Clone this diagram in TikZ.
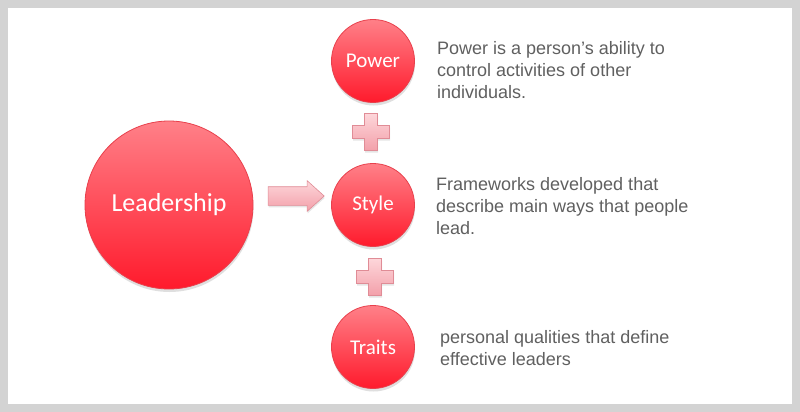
\documentclass[tikz,border=0pt]{standalone}
\usepackage{fontspec}
\setmainfont{Liberation Sans}
\newfontfamily\calib{Carlito}
\usetikzlibrary{shapes.arrows,shadows}
\definecolor{frame}{HTML}{D3D3D3}
\definecolor{redtop}{HTML}{FF8088}
\definecolor{redbot}{HTML}{FF1A2C}
\definecolor{rededge}{HTML}{E8404C}
\definecolor{pinktop}{HTML}{FDD6DA}
\definecolor{pinkbot}{HTML}{F3A0AA}
\definecolor{pinkedge}{HTML}{E08C96}
\definecolor{txt}{HTML}{606060}
\tikzset{
  ball/.style={circle, inner sep=0pt, top color=redtop, bottom color=redbot,
    draw=rededge, line width=0.8pt, text=white,
    drop shadow={opacity=0.25, shadow xshift=0.5pt, shadow yshift=-3pt}},
  smallball/.style={ball, minimum size=83pt, font=\calib\fontsize{21}{24}\selectfont},
  bigball/.style={ball, minimum size=168pt, font=\calib\fontsize{26}{30}\selectfont},
  desc/.style={anchor=west, align=left, inner sep=0pt, text=txt,
    font=\fontsize{18}{22}\selectfont},
  pinkfill/.style={top color=pinktop, bottom color=pinkbot, draw=pinkedge, line width=0.6pt,
    drop shadow={opacity=0.2, shadow xshift=0.5pt, shadow yshift=-2pt}},
  blockarrow/.style={single arrow, pinkfill, inner xsep=0pt, inner ysep=9pt,
    minimum height=56pt, single arrow head extend=6pt, single arrow tip angle=84},
}
\begin{document}
\begin{tikzpicture}[x=1pt,y=-1pt]
\useasboundingbox (0,0) rectangle (800,412);
\fill[frame] (0,0) rectangle (800,412);
\fill[white] (8,8) rectangle (792,404);

\node[bigball] (lead) at (169,205) {Leadership};
\node[smallball] (power) at (373,61) {Power};
\node[smallball] (style) at (373,205) {Style};
\node[smallball] (traits) at (373,347) {Traits};

\node[blockarrow] (arr) at (291,196) {};

\coordinate (p1) at (371,132);
\coordinate (p2) at (375,277);
\foreach \c in {p1,p2}{
  \fill[pinkfill] ([shift={(-6.5,-18.5)}]\c) -- ++(13,0) -- ++(0,12) -- ++(12,0) -- ++(0,13)
    -- ++(-12,0) -- ++(0,12) -- ++(-13,0) -- ++(0,-12) -- ++(-12,0) -- ++(0,-13)
    -- ++(12,0) -- cycle;
}

\node[desc] (dpower) at (437,70) {Power is a person’s ability to\\control activities of other\\individuals.};
\node[desc] (dstyle) at (436,206) {Frameworks developed that\\describe main ways that people\\lead.};
\node[desc] (dtraits) at (440,348) {personal qualities that define\\effective leaders};
\end{tikzpicture}
\end{document}
